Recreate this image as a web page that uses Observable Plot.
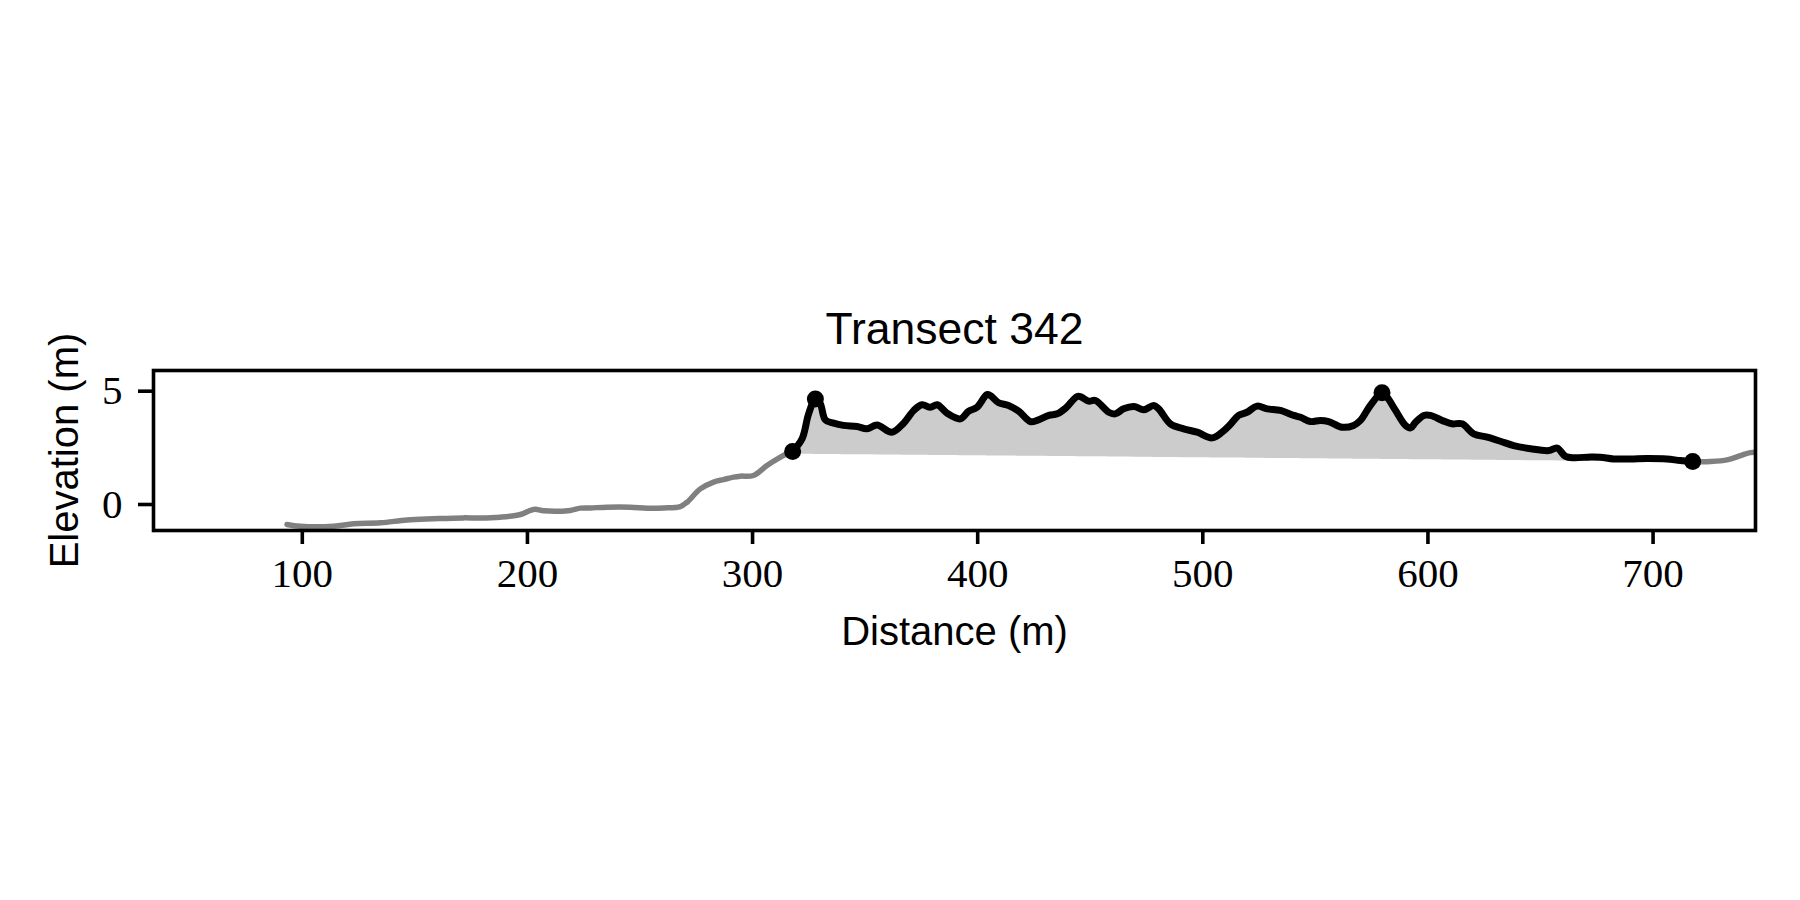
<!DOCTYPE html>
<html>
<head>
<meta charset="utf-8">
<script src="https://cdn.jsdelivr.net/npm/d3@7"></script>
<script src="https://cdn.jsdelivr.net/npm/@observablehq/plot@0.6"></script>
<style>
  html, body { margin: 0; padding: 0; background: #fff; }
  #chart { width: 1800px; height: 900px; }
</style>
</head>
<body>
<div id="chart"></div>
<script>
// ---- data ----
const title = "Transect 342";
const xLabel = "Distance (m)";
const yLabel = "Elevation (m)";
const xTicks = [100, 200, 300, 400, 500, 600, 700];
const yTicks = [0, 5];

const distance = [
  93.2, 99.1, 113.9, 122.8, 134.7, 146.5, 158.3, 171.6, 179.0, 187.9,
  196.9, 201.3, 203.5, 207.2, 219.0, 223.5, 227.9, 235.3, 245.8, 253.2,
  260.5, 267.9, 270.9, 276.8, 282.7, 287.1, 291.6, 294.5, 300.4, 306.4,
  312.4, 315.3, 317.8, 322.0, 324.9, 327.9, 330.1, 332.3, 336.0, 340.4,
  346.4, 350.8, 355.3, 361.9, 367.1, 371.6, 375.3, 379.0, 382.0, 386.4,
  392.3, 396.0, 399.7, 404.1, 405.6, 409.3, 413.7, 418.2, 423.4, 426.4,
  431.6, 435.3, 439.0, 444.1, 445.6, 449.3, 452.3, 458.2, 461.1, 464.8,
  469.4, 473.8, 478.2, 480.4, 485.6, 491.5, 497.5, 504.1, 508.5, 512.2,
  515.9, 519.6, 524.1, 528.6, 534.5, 540.4, 543.4, 547.8, 552.2, 555.9,
  561.9, 567.0, 570.0, 574.4, 579.6, 581.8, 585.6, 590.0, 592.3, 594.5,
  598.2, 601.1, 607.0, 610.7, 615.2, 620.3, 626.3, 632.2, 638.1, 645.6,
  653.7, 657.4, 661.1, 664.8, 672.2, 676.6, 682.5, 689.9, 697.3, 706.1,
  712.1, 717.6, 725.5, 732.9, 738.9, 743.2, 747.0
];
const elevation = [
  -0.88, -0.96, -0.96, -0.85, -0.81, -0.68, -0.63, -0.59, -0.60, -0.56,
  -0.44, -0.26, -0.21, -0.28, -0.26, -0.16, -0.15, -0.12, -0.12, -0.16,
  -0.15, -0.09, 0.10, 0.69, 0.99, 1.10, 1.21, 1.25, 1.28, 1.72,
  2.09, 2.24, 2.34, 2.90, 4.00, 4.66, 4.44, 3.74, 3.59, 3.49,
  3.44, 3.34, 3.51, 3.19, 3.59, 4.15, 4.40, 4.29, 4.40, 4.03,
  3.78, 4.12, 4.29, 4.85, 4.81, 4.49, 4.37, 4.12, 3.66, 3.71,
  3.93, 4.00, 4.25, 4.76, 4.76, 4.56, 4.59, 4.07, 4.00, 4.22,
  4.32, 4.18, 4.37, 4.22, 3.56, 3.34, 3.19, 2.94, 3.19, 3.53,
  3.93, 4.07, 4.34, 4.22, 4.15, 3.93, 3.85, 3.66, 3.71, 3.66,
  3.41, 3.49, 3.71, 4.37, 4.93, 4.74, 4.15, 3.49, 3.38, 3.63,
  3.93, 3.93, 3.68, 3.56, 3.56, 3.12, 2.97, 2.79, 2.60, 2.46,
  2.38, 2.49, 2.12, 2.06, 2.10, 2.09, 2.01, 2.01, 2.03, 2.01,
  1.94, 1.90, 1.90, 1.97, 2.16, 2.29, 2.30
];
// marked points (distance)
const markerDistance = [317.8, 327.9, 579.6, 717.6];
// straight base of the shaded region (start, end)
const baseDistance = [317.8, 717.6];
const baseElevation = [2.22, 1.87];

// ---- build tables ----
const profile = distance.map((d, i) => ({x: d, y: elevation[i]}));
const start = baseDistance[0], end = baseDistance[1];
const section = profile.filter(p => p.x >= start && p.x <= end);
const baseAt = x => baseElevation[0] + (baseElevation[1] - baseElevation[0]) * (x - start) / (end - start);
const shaded = section.map(p => ({x: p.x, y: p.y, b: baseAt(p.x)}));
const markers = markerDistance.map(m => profile.find(p => Math.abs(p.x - m) < 1e-6));

const serif = "'Liberation Serif', 'DejaVu Serif', serif";
const sans = "'Liberation Sans', Arial, sans-serif";

const chart = Plot.plot({
  width: 1800,
  height: 900,
  marginTop: 370,
  marginBottom: 370,
  marginLeft: 153,
  marginRight: 45,
  style: {background: "#fff", color: "#000", overflow: "visible"},
  x: {domain: [33.9, 745.5]},
  y: {domain: [-1.147, 5.913]},
  marks: [
    Plot.areaY(shaded, {x: "x", y1: "b", y2: "y", fill: "#cccccc", clip: true, curve: "catmull-rom"}),
    Plot.line(profile, {x: "x", y: "y", stroke: "#808080", strokeWidth: 5.5, clip: true,
      curve: "catmull-rom"}),
    Plot.line(section, {x: "x", y: "y", stroke: "#000", strokeWidth: 7, clip: true,
      curve: "catmull-rom"}),
    Plot.dot(markers, {x: "x", y: "y", r: 8.5, fill: "#000", stroke: null}),
    Plot.frame({stroke: "#000", strokeWidth: 3.6}),
    Plot.axisX({ticks: xTicks, tickSize: 14, tickPadding: 13, strokeWidth: 3.6,
      fontSize: 41, fontFamily: serif, label: null, tickFormat: d => String(d)}),
    Plot.axisY({ticks: yTicks, tickSize: 15, tickPadding: 16, strokeWidth: 3.6,
      fontSize: 41, fontFamily: serif, label: null, tickFormat: d => String(d)}),
    Plot.text([title], {text: d => d, frameAnchor: "top", dy: -27, lineAnchor: "bottom",
      fontSize: 44.5, fontFamily: sans, fill: "#000"}),
    Plot.text([xLabel], {text: d => d, frameAnchor: "bottom", dy: 114, lineAnchor: "bottom",
      fontSize: 40, fontFamily: sans, fill: "#000"}),
    Plot.text([yLabel], {text: d => d, frameAnchor: "left", dx: -76, rotate: -90,
      textAnchor: "middle", lineAnchor: "bottom",
      fontSize: 40, fontFamily: sans, fill: "#000"})
  ]
});
document.getElementById("chart").appendChild(chart);
</script>
</body>
</html>
